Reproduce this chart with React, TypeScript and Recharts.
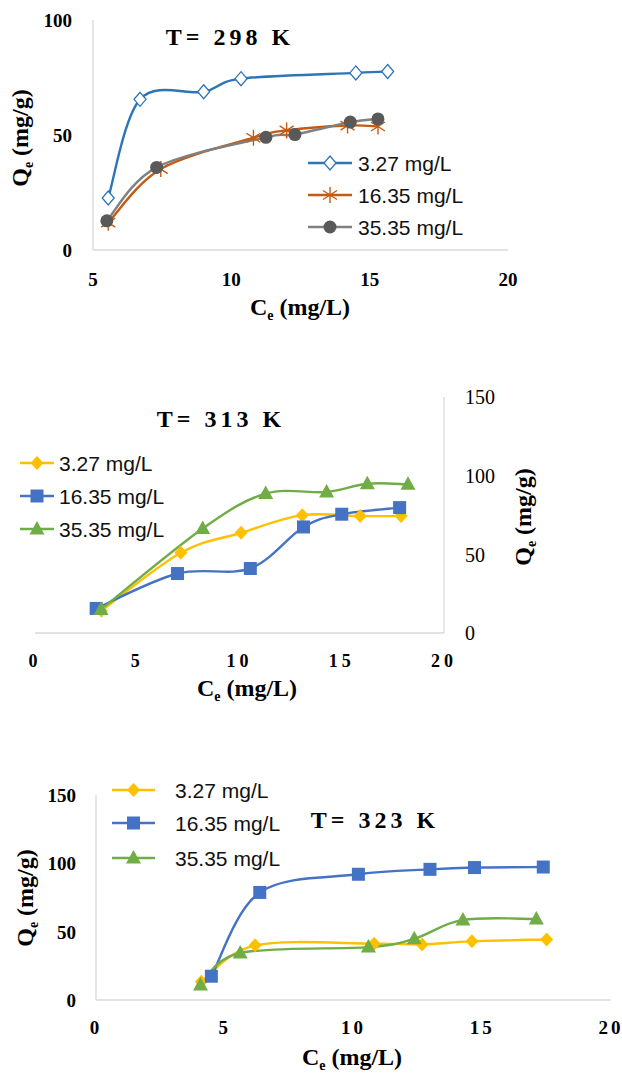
import React from "react"
import { LineChart, Line, XAxis, YAxis } from "recharts"

const SERIF = '"Liberation Serif", "Times New Roman", serif'
const SANS = '"Liberation Sans", Arial, sans-serif'

const seriesNames = ["3.27 mg/L", "16.35 mg/L", "35.35 mg/L"]

// T = 298 K
const ce298a = [5.55, 6.7, 9.0, 10.35, 14.5, 15.65]
const qe298a = [22.6, 65.5, 68.8, 74.5, 77.0, 77.6]
const ce298b = [5.55, 7.45, 10.8, 12.0, 14.2, 15.3]
const qe298b = [11.9, 35.2, 48.8, 52.0, 54.1, 53.7]
const ce298c = [5.5, 7.3, 11.25, 12.3, 14.3, 15.3]
const qe298c = [12.7, 35.9, 49.0, 50.2, 55.6, 57.0]

// T = 313 K
const ce313a = [3.25, 7.13, 10.08, 13.07, 15.9, 17.9]
const qe313a = [14.2, 51.0, 63.7, 74.9, 74.3, 74.3]
const ce313b = [2.99, 6.97, 10.53, 13.13, 15.0, 17.83]
const qe313b = [15.6, 37.8, 41.0, 67.4, 75.5, 79.7]
const ce313c = [3.23, 8.2, 11.28, 14.26, 16.25, 18.24]
const qe313c = [15.0, 66.4, 88.6, 89.6, 94.9, 94.5]

// T = 323 K
const ce323a = [4.09, 6.18, 10.8, 12.66, 14.6, 17.5]
const qe323a = [13.3, 40.0, 41.2, 40.7, 42.9, 44.3]
const ce323b = [4.48, 6.36, 10.19, 12.97, 14.7, 17.37]
const qe323b = [17.4, 78.7, 92.0, 95.6, 96.9, 97.3]
const ce323c = [4.06, 5.6, 10.58, 12.36, 14.25, 17.1]
const qe323c = [10.9, 34.4, 38.7, 44.8, 58.6, 59.3]

const xTicks298 = [5, 10, 15, 20]
const yTicks298 = [0, 50, 100]
const xTicks = [0, 5, 10, 15, 20]
const yTicks = [0, 50, 100, 150]

const toPoints = (ce: number[], qe: number[]) => ce.map((c, i) => ({ c, q: qe[i] }))

// smoothed line like the spreadsheet one (catmull-rom through the points)
const smoothCurve: any = (context: any) => {
  let pts: number[][] = []
  return {
    areaStart() {},
    areaEnd() {},
    lineStart() {
      pts = []
    },
    lineEnd() {
      const n = pts.length
      if (!n) return
      context.moveTo(pts[0][0], pts[0][1])
      for (let i = 0; i < n - 1; i++) {
        const p0 = pts[i > 0 ? i - 1 : i]
        const p1 = pts[i]
        const p2 = pts[i + 1]
        const p3 = pts[i + 2 < n ? i + 2 : i + 1]
        context.bezierCurveTo(
          p1[0] + (p2[0] - p0[0]) / 6,
          p1[1] + (p2[1] - p0[1]) / 6,
          p2[0] - (p3[0] - p1[0]) / 6,
          p2[1] - (p3[1] - p1[1]) / 6,
          p2[0],
          p2[1]
        )
      }
    },
    point(x: number, y: number) {
      pts.push([+x, +y])
    },
  }
}

type Shape = "openDiamond" | "star" | "circle" | "diamond" | "square" | "triangle"

function Marker({ shape, x, y, color }: { shape: Shape; x: number; y: number; color: string }) {
  switch (shape) {
    case "openDiamond":
      return <path d={`M${x},${y - 7}L${x + 6},${y}L${x},${y + 7}L${x - 6},${y}Z`} fill="#fff" stroke={color} strokeWidth={1.3} />
    case "star":
      return (
        <path
          d={`M${x},${y - 8}L${x},${y + 8}M${x - 7},${y - 4.5}L${x + 7},${y + 4.5}M${x - 7},${y + 4.5}L${x + 7},${y - 4.5}`}
          stroke={color}
          strokeWidth={1.4}
          fill="none"
        />
      )
    case "circle":
      return <circle cx={x} cy={y} r={6.5} fill="#595959" />
    case "diamond":
      return <path d={`M${x},${y - 7}L${x + 6.5},${y}L${x},${y + 7}L${x - 6.5},${y}Z`} fill={color} />
    case "square":
      return <rect x={x - 6.5} y={y - 6.5} width={13} height={13} fill={color} />
    case "triangle":
      return <path d={`M${x},${y - 8}L${x + 7.5},${y + 5.5}L${x - 7.5},${y + 5.5}Z`} fill={color} />
  }
}

const dotOf = (shape: Shape, color: string) => (p: any) => (
  <Marker key={`m${p.index}`} shape={shape} x={p.cx} y={p.cy} color={color} />
)

const serifTick = (anchor: "start" | "middle" | "end", size: number, weight: number, spacing = 0, vertical = false) =>
  (p: any) => (
    <text
      key={`t${p.index}`}
      x={p.x}
      y={p.y}
      dy={vertical ? "0.36em" : "0.72em"}
      textAnchor={anchor}
      fontFamily={SERIF}
      fontSize={size}
      fontWeight={weight}
      letterSpacing={spacing}
      fill="#000"
    >
      {p.payload.value}
    </text>
  )

const axisStroke = { stroke: "#D9D9D9", strokeWidth: 1.3 }

type LegendItem = { name: string; color: string; shape: Shape }

function LegendBox({ left, lineW, gap, rows, items }: { left: number; lineW: number; gap: number; rows: number[]; items: LegendItem[] }) {
  return (
    <>
      {items.map((it, i) => (
        <div key={it.name} style={{ position: "absolute", left, top: rows[i] - 12, height: 24, display: "flex", alignItems: "center", whiteSpace: "nowrap" }}>
          <svg width={lineW} height={24}>
            <line x1={0} x2={lineW} y1={12} y2={12} stroke={it.color} strokeWidth={2.6} />
            <Marker shape={it.shape} x={lineW / 2} y={12} color={it.color} />
          </svg>
          <span style={{ marginLeft: gap, fontFamily: SANS, fontSize: 21, color: "#111", lineHeight: 1 }}>{it.name}</span>
        </div>
      ))}
    </>
  )
}

function Title({ x, y, text }: { x: number; y: number; text: string }) {
  return (
    <div style={{ position: "absolute", left: x, top: y, transform: "translate(-50%,-50%)", fontFamily: SERIF, fontWeight: 700, fontSize: 24, letterSpacing: 4, whiteSpace: "pre", lineHeight: 1 }}>
      {text}
    </div>
  )
}

function AxisName({ x, y, sym, unit, rotate }: { x: number; y: number; sym: string; unit: string; rotate?: boolean }) {
  return (
    <div
      style={{
        position: "absolute",
        left: x,
        top: y,
        transform: `translate(-50%,-50%)${rotate ? " rotate(-90deg)" : ""}`,
        fontFamily: SERIF,
        fontWeight: 700,
        fontSize: 24,
        whiteSpace: "pre",
        lineHeight: 1,
      }}
    >
      {sym}
      <span style={{ fontSize: 14, position: "relative", top: 5 }}>e</span>
      {` (${unit})`}
    </div>
  )
}

const items298: LegendItem[] = [
  { name: seriesNames[0], color: "#2E75B6", shape: "openDiamond" },
  { name: seriesNames[1], color: "#C55A11", shape: "star" },
  { name: seriesNames[2], color: "#808080", shape: "circle" },
]
const itemsHot: LegendItem[] = [
  { name: seriesNames[0], color: "#FFC000", shape: "diamond" },
  { name: seriesNames[1], color: "#4472C4", shape: "square" },
  { name: seriesNames[2], color: "#70AD47", shape: "triangle" },
]

export default function App() {
  const lines = (sets: { c: number; q: number }[][], its: LegendItem[]) =>
    sets.map((d, i) => (
      <Line
        key={its[i].name}
        data={d}
        dataKey="q"
        name={its[i].name}
        type={smoothCurve}
        stroke={its[i].color}
        strokeWidth={2.4}
        dot={dotOf(its[i].shape, its[i].color)}
        activeDot={false}
        isAnimationActive={false}
      />
    ))

  return (
    <div style={{ position: "relative", width: 622, height: 1077, background: "#fff" }}>
      <style>{`body{margin:0}`}</style>

      {/* T = 298 K */}
      <div style={{ position: "absolute", left: 0, top: 0 }}>
        <LineChart width={622} height={330} margin={{ top: 20, right: 114, bottom: 79, left: 92 }}>
          <XAxis type="number" dataKey="c" domain={[5, 20]} ticks={xTicks298} height={1} axisLine={axisStroke} tickLine={false} tickSize={0} tickMargin={22} tick={serifTick("middle", 19, 700)} allowDuplicatedCategory={false} />
          <YAxis type="number" domain={[0, 100]} ticks={yTicks298} width={1} axisLine={axisStroke} tickLine={false} tickSize={0} tickMargin={21} tick={serifTick("end", 19, 700, 0, true)} />
          {lines([toPoints(ce298a, qe298a), toPoints(ce298b, qe298b), toPoints(ce298c, qe298c)], items298)}
        </LineChart>
      </div>
      <Title x={230} y={37} text="T= 298 K" />
      <AxisName x={20} y={138} sym="Q" unit="mg/g" rotate />
      <AxisName x={300} y={307} sym="C" unit="mg/L" />
      <LegendBox left={308} lineW={44} gap={6} rows={[163, 195, 227]} items={items298} />

      {/* T = 313 K */}
      <div style={{ position: "absolute", left: 0, top: 380 }}>
        <LineChart width={622} height={320} margin={{ top: 17, right: 177, bottom: 66, left: 35 }}>
          <XAxis type="number" dataKey="c" domain={[0, 20]} ticks={xTicks} height={1} axisLine={axisStroke} tickLine={false} tickSize={0} tickMargin={21} tick={serifTick("middle", 18, 700, 4)} allowDuplicatedCategory={false} />
          <YAxis type="number" orientation="right" domain={[0, 150]} ticks={yTicks} width={1} axisLine={axisStroke} tickLine={false} tickSize={0} tickMargin={21} tick={serifTick("start", 20, 400, 0, true)} />
          {lines([toPoints(ce313a, qe313a), toPoints(ce313b, qe313b), toPoints(ce313c, qe313c)], itemsHot)}
        </LineChart>
      </div>
      <Title x={221} y={419} text="T= 313 K" />
      <AxisName x={523} y={517} sym="Q" unit="mg/g" rotate />
      <AxisName x={247} y={688} sym="C" unit="mg/L" />
      <LegendBox left={20} lineW={34} gap={5} rows={[463, 496, 529]} items={itemsHot} />

      {/* T = 323 K */}
      <div style={{ position: "absolute", left: 0, top: 760 }}>
        <LineChart width={622} height={317} margin={{ top: 35, right: 11, bottom: 76, left: 95 }}>
          <XAxis type="number" dataKey="c" domain={[0, 20]} ticks={xTicks} height={1} axisLine={axisStroke} tickLine={false} tickSize={0} tickMargin={20} tick={serifTick("middle", 19, 700, 3)} allowDuplicatedCategory={false} />
          <YAxis type="number" domain={[0, 150]} ticks={yTicks} width={1} axisLine={axisStroke} tickLine={false} tickSize={0} tickMargin={20} tick={serifTick("end", 19, 700, 0, true)} />
          {lines([toPoints(ce323a, qe323a), toPoints(ce323b, qe323b), toPoints(ce323c, qe323c)], itemsHot)}
        </LineChart>
      </div>
      <Title x={375} y={820} text="T= 323 K" />
      <AxisName x={25} y={898} sym="Q" unit="mg/g" rotate />
      <AxisName x={352} y={1057} sym="C" unit="mg/L" />
      <LegendBox left={112} lineW={43} gap={20} rows={[790, 823, 858]} items={itemsHot} />
    </div>
  )
}
